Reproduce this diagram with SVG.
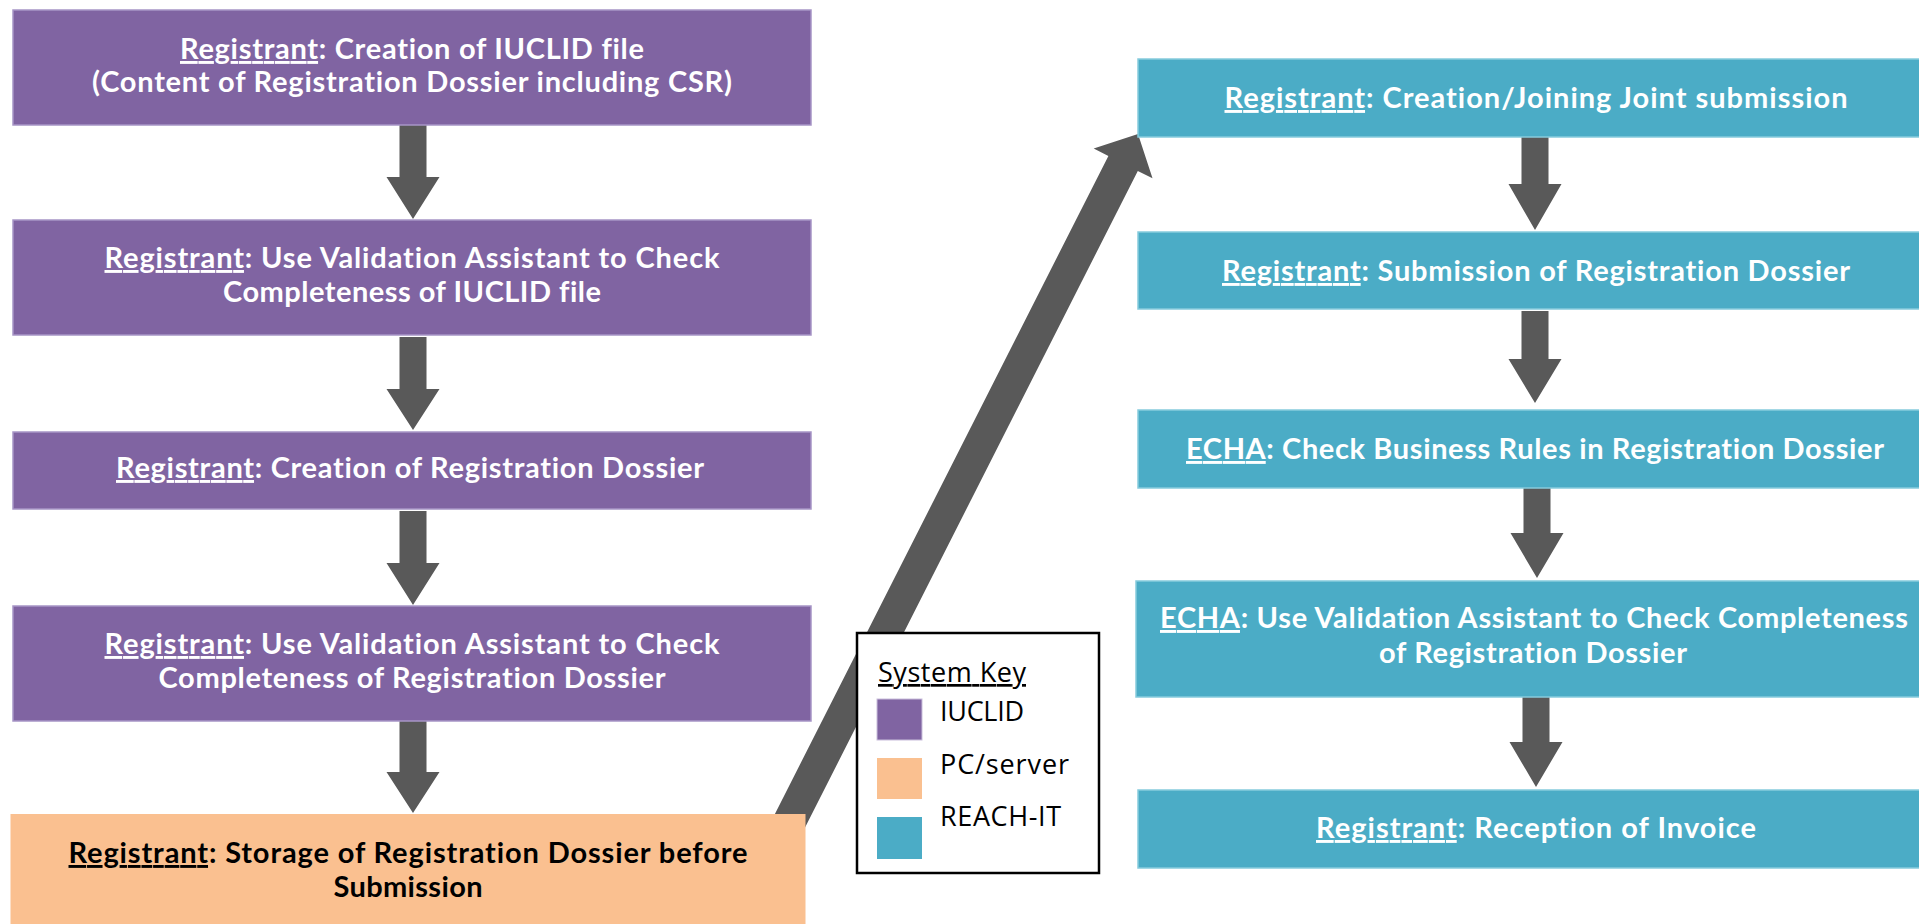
<svg xmlns="http://www.w3.org/2000/svg" width="1919" height="924" viewBox="0 0 1919 924">
<style>
.bg{fill:#ffffff}
.iuclid{fill:#8064A2;stroke:#a795c6;stroke-width:1.5}
.pc{fill:#FAC090}
.reach{fill:#4BACC6;stroke:#86cbdd;stroke-width:1.5}
.arrow{fill:#595959}
.t{font-family:Lato,"Open Sans","Liberation Sans",sans-serif;font-weight:700;font-size:29px;fill:#ffffff;text-anchor:middle;font-variant-ligatures:none}
.dark{fill:#000000}
.u{text-decoration:underline}
.key{fill:#ffffff;stroke:#000000;stroke-width:2.5}
.kt{font-family:"Open Sans","Noto Sans","Liberation Sans",sans-serif;font-size:27px;fill:#000000}
</style>
<rect class="bg" x="0" y="0" width="1919" height="924"/>

<g id="connectors">
  <path id="c-big" class="arrow" d="M750.3,862.5 L1108.4,155.9 L1093.7,148.5 L1138,134 L1152.5,178.3 L1137.8,170.9 L779.7,877.5 Z"/>
  <path id="c1" class="arrow" d="M399.5,125 H426.5 V177 H439.5 L413,219 L386.5,177 H399.5 Z"/>
  <path id="c2" class="arrow" d="M399.5,337 H426.5 V389 H439.5 L413,430 L386.5,389 H399.5 Z"/>
  <path id="c3" class="arrow" d="M399.5,511 H426.5 V563 H439.5 L413,605 L386.5,563 H399.5 Z"/>
  <path id="c4" class="arrow" d="M399.5,719 H426.5 V772 H439.5 L413,813 L386.5,772 H399.5 Z"/>
  <path id="c5" class="arrow" d="M1521.5,137 H1548.5 V184 H1561.5 L1535,230 L1508.5,184 H1521.5 Z"/>
  <path id="c6" class="arrow" d="M1521.5,311 H1548.5 V359 H1561.5 L1535,403 L1508.5,359 H1521.5 Z"/>
  <path id="c7" class="arrow" d="M1523.5,485 H1550.5 V533 H1563.5 L1537,578 L1510.5,533 H1523.5 Z"/>
  <path id="c8" class="arrow" d="M1522.5,694 H1549.5 V742 H1562.5 L1536,787 L1509.5,742 H1522.5 Z"/>
</g>

<g id="n1">
  <rect class="iuclid" x="13" y="10" width="798" height="115"/>
  <text class="t" x="412" y="59" textLength="464"><tspan class="u">Registrant</tspan>: Creation of IUCLID file</text>
  <text class="t" x="412" y="92" textLength="640">(Content of Registration Dossier including CSR)</text>
</g>
<g id="n2">
  <rect class="iuclid" x="13" y="220" width="798" height="115"/>
  <text class="t" x="412" y="268" textLength="615"><tspan class="u">Registrant</tspan>: Use Validation Assistant to Check</text>
  <text class="t" x="412" y="302" textLength="378">Completeness of IUCLID file</text>
</g>
<g id="n3">
  <rect class="iuclid" x="13" y="432" width="798" height="77"/>
  <text class="t" x="410" y="478" textLength="588"><tspan class="u">Registrant</tspan>: Creation of Registration Dossier</text>
</g>
<g id="n4">
  <rect class="iuclid" x="13" y="606" width="798" height="115"/>
  <text class="t" x="412" y="654" textLength="615"><tspan class="u">Registrant</tspan>: Use Validation Assistant to Check</text>
  <text class="t" x="412" y="688" textLength="507">Completeness of Registration Dossier</text>
</g>
<g id="n5">
  <rect class="pc" x="10.5" y="814" width="795" height="115"/>
  <text class="t dark" x="408" y="863" textLength="679"><tspan class="u">Registrant</tspan>: Storage of Registration Dossier before</text>
  <text class="t dark" x="408" y="897" textLength="149">Submission</text>
</g>

<g id="n6">
  <rect class="reach" x="1138" y="59" width="800" height="78"/>
  <text class="t" x="1536" y="108" textLength="623"><tspan class="u">Registrant</tspan>: Creation/Joining Joint submission</text>
</g>
<g id="n7">
  <rect class="reach" x="1138" y="232" width="800" height="77"/>
  <text class="t" x="1536" y="281" textLength="628"><tspan class="u">Registrant</tspan>: Submission of Registration Dossier</text>
</g>
<g id="n8">
  <rect class="reach" x="1138" y="410" width="800" height="78"/>
  <text class="t" x="1535" y="459" textLength="698"><tspan class="u">ECHA</tspan>: Check Business Rules in Registration Dossier</text>
</g>
<g id="n9">
  <rect class="reach" x="1136" y="581" width="802" height="116"/>
  <text class="t" x="1534" y="628" textLength="748"><tspan class="u">ECHA</tspan>: Use Validation Assistant to Check Completeness</text>
  <text class="t" x="1533" y="663" textLength="308">of Registration Dossier</text>
</g>
<g id="n10">
  <rect class="reach" x="1138" y="790" width="800" height="78"/>
  <text class="t" x="1536" y="838" textLength="440"><tspan class="u">Registrant</tspan>: Reception of Invoice</text>
</g>

<g id="legend">
  <rect class="key" x="857" y="633" width="242" height="240"/>
  <text class="kt u" x="878" y="682" textLength="148">System Key</text>
  <rect x="877" y="699" width="45" height="41" fill="#8064A2" stroke="#c9bedb" stroke-width="1"/>
  <text class="kt" x="940" y="721" textLength="84">IUCLID</text>
  <rect x="877" y="758" width="45" height="41" fill="#FAC090"/>
  <text class="kt" x="940" y="774" textLength="129">PC/server</text>
  <rect x="877" y="817" width="45" height="42" fill="#4BACC6"/>
  <text class="kt" x="940" y="826" textLength="121">REACH-IT</text>
</g>
</svg>
